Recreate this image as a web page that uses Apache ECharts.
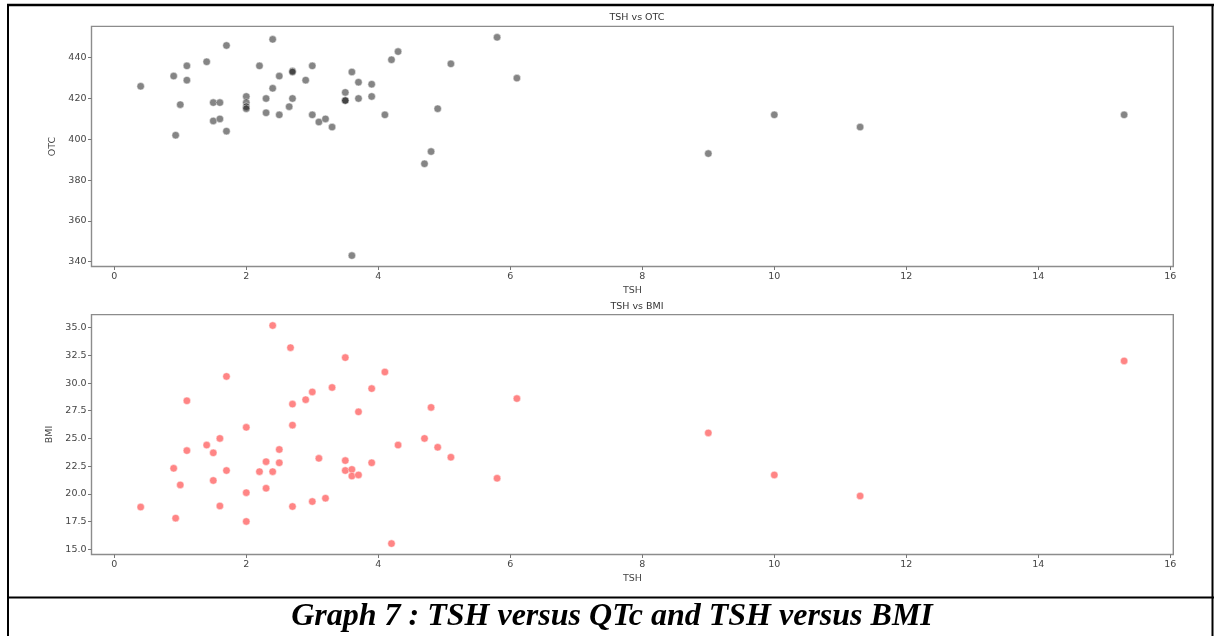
<!DOCTYPE html>
<html>
<head>
<meta charset="utf-8">
<script src="https://cdn.jsdelivr.net/npm/echarts@6/dist/echarts.min.js"></script>
<style>
html,body{margin:0;padding:0;background:#fff;}
#chart{width:1214px;height:636px;}
</style>
</head>
<body>
<div id="chart"></div>
<script>
// ---- data ----
const tshQtc = [0.4,0.9,1.1,1.1,1.0,0.93,1.4,1.7,1.5,1.6,1.5,1.6,1.7,2.0,2.0,2.0,2.0,2.2,2.4,2.5,2.4,2.3,2.3,2.5,2.7,2.7,2.7,2.65,2.9,3.0,3.0,3.1,3.2,3.3,3.6,3.5,3.5,3.5,3.7,3.7,3.9,3.9,3.6,4.1,4.2,4.3,4.7,4.8,4.9,5.1,5.8,6.1,9.0,10.0,11.3,15.3];
const qtc = [426,431,436,429,417,402,438,446,418,418,409,410,404,421,418,416,415,436,449,431,425,420,413,412,433.5,433,420,416,429,436,412,408.5,410,406,433,423,419,419,428,420,427,421,343,412,439,443,388,394,415,437,450,430,393,412,406,412];

const tshBmi = [0.4,0.9,1.0,0.93,1.1,1.1,1.4,1.5,1.5,1.6,1.6,1.7,1.7,2.0,2.0,2.0,2.2,2.3,2.3,2.4,2.4,2.5,2.5,2.67,2.7,2.7,2.7,2.9,3.0,3.0,3.1,3.2,3.3,3.5,3.5,3.5,3.6,3.6,3.7,3.7,3.9,3.9,4.1,4.2,4.3,4.7,4.8,4.9,5.1,5.8,6.1,9.0,10.0,11.3,15.3];
const bmi = [18.8,22.3,20.8,17.8,28.4,23.9,24.4,23.7,21.2,25.0,18.9,30.6,22.1,26.0,20.1,17.5,22.0,22.9,20.5,35.2,22.0,24.0,22.8,33.2,28.1,26.2,18.85,28.5,29.2,19.3,23.2,19.6,29.6,32.3,23.0,22.1,22.2,21.6,27.4,21.7,29.5,22.8,31.0,15.5,24.4,25.0,27.8,24.2,23.3,21.4,28.6,25.5,21.7,19.8,32.0];

const xTicks = [0,2,4,6,8,10,12,14,16];
const qtcTicks = [340,360,380,400,420,440];
const bmiTicks = [15,17.5,20,22.5,25,27.5,30,32.5,35];

const titles = ['TSH vs OTC','TSH vs BMI'];
const xName = 'TSH';
const yNames = ['OTC','BMI'];
const caption = 'Graph 7 : TSH versus QTc and TSH versus BMI';

// ---- chart ----
const pair = (xs, ys) => xs.map((x, i) => [x, ys[i]]);
const FONT = 'DejaVu Sans';
const labelStyle = {color:'#444', fontFamily:FONT, fontSize:9.5};

function xAxisFor(gi){
  return {
    type:'value', gridIndex:gi, min:-0.345, max:16.045, position:'bottom',
    name:xName, nameLocation:'middle', nameGap:19,
    nameTextStyle:{color:'#444', fontFamily:FONT, fontSize:9.5},
    axisLine:{show:false, onZero:false},
    splitLine:{show:false},
    axisTick:{show:true, inside:false, length:3.5, lineStyle:{color:'#777', width:1}, customValues:xTicks},
    axisLabel:Object.assign({margin:5, customValues:xTicks}, labelStyle)
  };
}
function yAxisFor(gi, lo, hi, ticks, name, fmt, gap){
  return {
    type:'value', gridIndex:gi, min:lo, max:hi, position:'left',
    name:name, nameLocation:'middle', nameGap:gap, nameRotate:90,
    nameTextStyle:{color:'#444', fontFamily:FONT, fontSize:9.5},
    axisLine:{show:false, onZero:false},
    splitLine:{show:false},
    axisTick:{show:true, inside:false, length:3.5, lineStyle:{color:'#777', width:1}, customValues:ticks},
    axisLabel:Object.assign({margin:5, customValues:ticks, formatter:fmt}, labelStyle)
  };
}

const chart = echarts.init(document.getElementById('chart'), null, {renderer:'canvas'});
chart.setOption({
  animation:false,
  backgroundColor:'#fff',
  title:[
    {text:titles[0], left:632, top:8, textAlign:'center', textStyle:{fontFamily:FONT, fontSize:9.5, fontWeight:'normal', color:'#333'}},
    {text:titles[1], left:632, top:297, textAlign:'center', textStyle:{fontFamily:FONT, fontSize:9.5, fontWeight:'normal', color:'#333'}}
  ],
  grid:[
    {left:91.5, top:26.4, width:1081.8, height:240.1, show:true, borderColor:'#8c8c8c', borderWidth:1.4, backgroundColor:'transparent'},
    {left:91.5, top:314.6, width:1081.8, height:239.9, show:true, borderColor:'#8c8c8c', borderWidth:1.4, backgroundColor:'transparent'}
  ],
  xAxis:[xAxisFor(0), xAxisFor(1)],
  yAxis:[
    yAxisFor(0, 337.65, 455.35, qtcTicks, yNames[0], v => String(v), 31),
    yAxisFor(1, 14.515, 36.185, bmiTicks, yNames[1], v => v.toFixed(1), 33)
  ],
  series:[
    {type:'scatter', xAxisIndex:0, yAxisIndex:0, data:pair(tshQtc, qtc), symbolSize:7.5,
     itemStyle:{color:'rgba(0,0,0,0.6)', borderColor:'#fff', borderWidth:0.6}},
    {type:'scatter', xAxisIndex:1, yAxisIndex:1, data:pair(tshBmi, bmi), symbolSize:7.5,
     itemStyle:{color:'rgba(255,0,0,0.6)', borderColor:'#fff', borderWidth:0.6}}
  ],
  graphic:[
    {type:'line', shape:{x1:7, y1:5, x2:1214, y2:5}, style:{stroke:'#000', lineWidth:2.5}, silent:true},
    {type:'line', shape:{x1:8, y1:4, x2:8, y2:636}, style:{stroke:'#000', lineWidth:2}, silent:true},
    {type:'line', shape:{x1:1212.5, y1:4, x2:1212.5, y2:636}, style:{stroke:'#000', lineWidth:2}, silent:true},
    {type:'line', shape:{x1:7, y1:597.5, x2:1214, y2:597.5}, style:{stroke:'#000', lineWidth:2}, silent:true},
    {type:'text', x:612, y:617, style:{text:caption, font:'italic bold 32px "Liberation Serif"', fill:'#000', align:'center', verticalAlign:'middle'}, silent:true}
  ]
});
</script>
</body>
</html>
